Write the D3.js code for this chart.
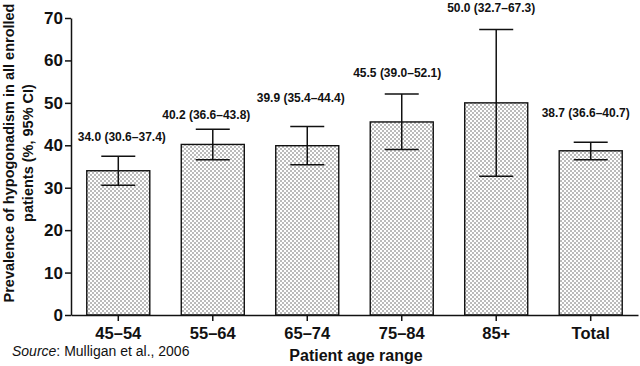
<!DOCTYPE html>
<html>
<head>
<meta charset="utf-8">
<script src="https://cdn.jsdelivr.net/npm/d3@7"></script>
<style>
  html, body { margin: 0; padding: 0; background: #fff; }
  svg { display: block; font-family: "Liberation Sans", Arial, Helvetica, sans-serif; }
</style>
</head>
<body>
<svg id="chart" width="640" height="366"></svg>
<script>
// ---- data ----
const categories = ["45\u201354", "55\u201364", "65\u201374", "75\u201384", "85+", "Total"];
const prevalence = [34.0, 40.2, 39.9, 45.5, 50.0, 38.7];
const ciLow      = [30.6, 36.6, 35.4, 39.0, 32.7, 36.6];
const ciHigh     = [37.4, 43.8, 44.4, 52.1, 67.3, 40.7];
const yTicks     = [0, 10, 20, 30, 40, 50, 60, 70];

// ---- layout (annotation placement, px) ----
const labelGap   = [15, 10, 25, 17, 17, 25];
const labelShift = [3.5, -6.5, -6.5, -4.5, -5, -5];

const svg = d3.select("#chart");

const x = d3.scaleBand().domain(categories).range([71, 638])
  .paddingInner(0.333).paddingOuter(0.167);
const y = d3.scaleLinear().domain([0, 70]).range([315, 18]);

// dot pattern
const defs = svg.append("defs");
const pat = defs.append("pattern").attr("id", "dots")
  .attr("patternUnits", "userSpaceOnUse").attr("width", 4).attr("height", 4);
pat.append("rect").attr("width", 4).attr("height", 4).attr("fill", "#fff");
pat.append("circle").attr("cx", 1).attr("cy", 1).attr("r", 0.75).attr("fill", "#555");
pat.append("circle").attr("cx", 3).attr("cy", 3).attr("r", 0.75).attr("fill", "#555");

const data = categories.map((c, i) => ({ c, v: prevalence[i], lo: ciLow[i], hi: ciHigh[i], i }));

// bars
svg.append("g").selectAll("rect").data(data).join("rect")
  .attr("x", d => x(d.c)).attr("width", x.bandwidth())
  .attr("y", d => y(d.v)).attr("height", d => y(0) - y(d.v))
  .attr("fill", "url(#dots)").attr("stroke", "#111").attr("stroke-width", 1.4);

// error bars
const capW = 34;
const eb = svg.append("g").attr("stroke", "#111").attr("stroke-width", 1.5);
eb.selectAll("line.v").data(data).join("line").attr("class", "v")
  .attr("x1", d => x(d.c) + x.bandwidth() / 2).attr("x2", d => x(d.c) + x.bandwidth() / 2)
  .attr("y1", d => y(d.lo)).attr("y2", d => y(d.hi));
eb.selectAll("line.hi").data(data).join("line").attr("class", "hi")
  .attr("x1", d => x(d.c) + x.bandwidth() / 2 - capW / 2).attr("x2", d => x(d.c) + x.bandwidth() / 2 + capW / 2)
  .attr("y1", d => y(d.hi)).attr("y2", d => y(d.hi));
eb.selectAll("line.lo").data(data).join("line").attr("class", "lo")
  .attr("x1", d => x(d.c) + x.bandwidth() / 2 - capW / 2).attr("x2", d => x(d.c) + x.bandwidth() / 2 + capW / 2)
  .attr("y1", d => y(d.lo)).attr("y2", d => y(d.lo));

// value labels
svg.append("g").selectAll("text").data(data).join("text")
  .attr("x", d => x(d.c) + x.bandwidth() / 2 + labelShift[d.i])
  .attr("y", d => y(d.hi) - labelGap[d.i])
  .attr("text-anchor", "middle").attr("font-size", 12).attr("font-weight", "bold").attr("fill", "#111")
  .text(d => `${d.v.toFixed(1)} (${d.lo.toFixed(1)}\u2013${d.hi.toFixed(1)})`);

// y axis
const yAxis = svg.append("g").attr("transform", "translate(71,0)")
  .call(d3.axisLeft(y).tickValues(yTicks).tickSize(6).tickSizeOuter(0).tickPadding(2));
yAxis.select(".domain").attr("stroke", "#111").attr("stroke-width", 1.5);
yAxis.selectAll(".tick line").attr("stroke", "#111").attr("stroke-width", 1.5);
yAxis.selectAll(".tick text").attr("font-size", 17).attr("font-weight", "bold").attr("fill", "#111")
  .attr("font-family", "Liberation Sans, Arial, sans-serif");

// x axis
const xAxis = svg.append("g").attr("transform", "translate(0,315)")
  .call(d3.axisBottom(x).tickSize(6).tickSizeOuter(0).tickPadding(6));
xAxis.select(".domain").attr("stroke", "#111").attr("stroke-width", 1.5);
xAxis.selectAll(".tick line").attr("stroke", "#111").attr("stroke-width", 1.5);
xAxis.selectAll(".tick text").attr("font-size", 16.5).attr("font-weight", "bold").attr("fill", "#111")
  .attr("font-family", "Liberation Sans, Arial, sans-serif");

// y title
const yt = svg.append("text").attr("transform", "translate(14,153) rotate(-90)")
  .attr("text-anchor", "middle").attr("font-size", 14.5).attr("font-weight", "bold").attr("fill", "#111");
yt.append("tspan").attr("x", 0).attr("dy", 0).text("Prevalence of hypogonadism in all enrolled");
yt.append("tspan").attr("x", 0).attr("dy", 19).text("patients (%, 95% CI)");

// x title
svg.append("text").attr("x", 356).attr("y", 361).attr("text-anchor", "middle")
  .attr("font-size", 16).attr("font-weight", "bold").attr("fill", "#111").text("Patient age range");

// source
const src = svg.append("text").attr("x", 12).attr("y", 356).attr("font-size", 14).attr("fill", "#111");
src.append("tspan").attr("font-style", "italic").text("Source");
src.append("tspan").text(": Mulligan et al., 2006");
</script>
</body>
</html>
